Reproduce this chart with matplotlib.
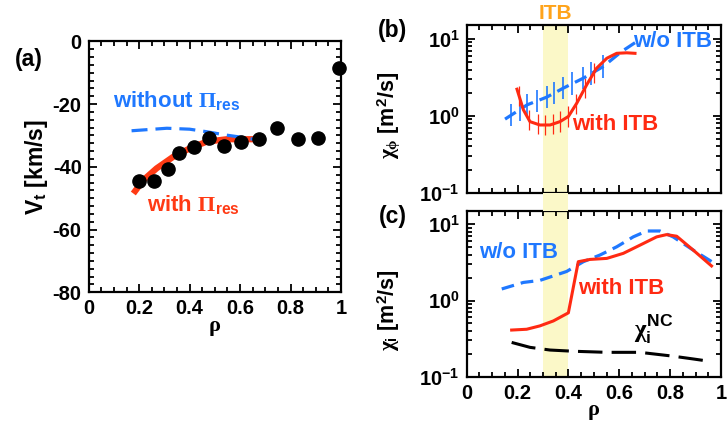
import numpy as np
import matplotlib
matplotlib.use("Agg")
import matplotlib.pyplot as plt
from matplotlib.patches import Rectangle
from matplotlib.transforms import blended_transform_factory
from matplotlib.ticker import MultipleLocator, LogLocator, NullFormatter, FuncFormatter

plt.rcParams['font.family'] = ['Liberation Sans', 'DejaVu Sans']
plt.rcParams['font.weight'] = 'bold'
plt.rcParams['axes.unicode_minus'] = False
plt.rcParams['mathtext.fontset'] = 'custom'
plt.rcParams['mathtext.rm'] = 'Liberation Serif'
plt.rcParams['mathtext.it'] = 'Liberation Serif'
plt.rcParams['mathtext.bf'] = 'Liberation Sans:bold'

BLUE = '#1f78ff'
RED = '#ff2a12'
ORANGE_RED = '#ff3a14'

# (a) measured toroidal velocity
rho_meas = [0.20, 0.258, 0.313, 0.359, 0.419, 0.477, 0.538, 0.604, 0.675, 0.748, 0.828, 0.908, 0.993]
vt_meas = [-44.5, -44.5, -40.8, -35.5, -33.8, -30.7, -33.3, -32.2, -31.2, -27.5, -31.2, -30.7, -8.4]
# (a) simulation with residual stress
rho_with = [0.177, 0.217, 0.269, 0.335, 0.401, 0.467, 0.547, 0.652]
vt_with = [-48.5, -44.2, -40.5, -36.8, -34.1, -32.0, -31.2, -31.2]
# (a) simulation without residual stress
rho_wo = [0.17, 0.31, 0.40, 0.467, 0.547, 0.60, 0.652]
vt_wo = [-28.5, -27.7, -28.0, -28.8, -29.9, -30.5, -31.2]

# (b) chi_phi
rho_b_wo = [0.151, 0.238, 0.315, 0.38, 0.459, 0.537, 0.609, 0.668]
chiphi_wo = [0.906, 1.39, 1.75, 2.29, 3.09, 4.37, 6.84, 9.2]
rho_b_with = [0.198, 0.223, 0.249, 0.288, 0.328, 0.367, 0.40, 0.433, 0.472, 0.511, 0.551, 0.59, 0.629, 0.662]
chiphi_with = [2.22, 1.20, 0.84, 0.76, 0.76, 0.84, 0.98, 1.46, 2.53, 4.16, 5.6, 6.5, 6.6, 6.5]
# error bar positions
rho_bar_wo = [0.175, 0.21, 0.238, 0.275, 0.315, 0.345, 0.38, 0.415, 0.459, 0.49, 0.537]
rho_bar_with = [0.206, 0.245, 0.28, 0.31, 0.34, 0.368, 0.40, 0.43, 0.465, 0.50]
err_fac_wo = 1.4
err_fac_with = 1.35

# (c) chi_i
rho_c_wo = [0.138, 0.223, 0.288, 0.393, 0.459, 0.524, 0.59, 0.655, 0.708, 0.76, 0.812, 0.891, 0.97]
chii_wo = [1.42, 1.73, 1.84, 2.41, 3.24, 3.96, 5.08, 6.86, 8.2, 8.2, 6.86, 4.6, 3.15]
rho_c_with = [0.177, 0.236, 0.288, 0.341, 0.40, 0.439, 0.485, 0.551, 0.616, 0.681, 0.747, 0.786, 0.826, 0.891, 0.963]
chii_with = [0.41, 0.42, 0.465, 0.54, 0.69, 3.24, 3.47, 3.58, 4.17, 5.33, 6.86, 7.35, 7.0, 4.6, 2.85]
rho_nc = [0.177, 0.249, 0.328, 0.419, 0.551, 0.681, 0.812, 0.891, 0.963]
chii_nc = [0.282, 0.243, 0.224, 0.216, 0.209, 0.209, 0.186, 0.171, 0.158]

itb_lo, itb_hi = 0.3, 0.4

fig = plt.figure(figsize=(7.28, 4.29), dpi=100)
axa = fig.add_axes([0.1218, 0.3186, 0.3466, 0.585])
axb = fig.add_axes([0.641, 0.5508, 0.3493, 0.390])
axc = fig.add_axes([0.641, 0.1219, 0.3493, 0.3862])


def rho_fmt(v, pos):
    if abs(v - round(v)) < 1e-6:
        return '%d' % round(v)
    return '%.1f' % v


def style(ax, xlabels=True):
    ax.set_xlim(0, 1)
    ax.xaxis.set_major_locator(MultipleLocator(0.2))
    ax.xaxis.set_minor_locator(MultipleLocator(0.05))
    if xlabels:
        ax.xaxis.set_major_formatter(FuncFormatter(rho_fmt))
    else:
        ax.xaxis.set_major_formatter(NullFormatter())
    ax.tick_params(which='both', direction='in', top=True, right=True, width=1.3)
    ax.tick_params(which='major', length=6, labelsize=14.5, pad=5)
    ax.tick_params(which='minor', length=3.5)
    for s in ax.spines.values():
        s.set_linewidth(1.6)
    for lab in ax.get_xticklabels() + ax.get_yticklabels():
        lab.set_fontweight('bold')


# ---- (a)
axa.plot(rho_with, vt_with, color=ORANGE_RED, lw=4.5, solid_capstyle='butt', zorder=2)
axa.plot(rho_wo, vt_wo, color=BLUE, lw=2.3, dashes=(5, 2.5), zorder=2)
axa.plot(rho_meas, vt_meas, 'o', color='black', ms=9.5, zorder=3, clip_on=False)
axa.set_ylim(-80, 0)
axa.set_yticks([-80, -60, -40, -20, 0])
axa.yaxis.set_minor_locator(MultipleLocator(2.5))
style(axa)
axa.set_xlabel(r'$\rho$', fontsize=16, labelpad=-1)
axa.set_ylabel(r'V$_\mathbf{t}$ [km/s]', fontsize=16.5, fontweight='bold', labelpad=2)
axa.text(0.095, -19, r'without $\Pi_\mathbf{res}$', color=BLUE, fontsize=16,
         fontweight='bold', va='center')
axa.text(0.23, -52, r'with $\Pi_\mathbf{res}$', color=ORANGE_RED, fontsize=16,
         fontweight='bold', va='center')
fig.text(0.039, 0.862, '(a)', fontsize=16.5, fontweight='bold', va='center', ha='center')

# ---- (b) / (c) shared log styling
for ax in (axb, axc):
    ax.axvspan(itb_lo, itb_hi, color='#fbf8c8', lw=0, zorder=0)
    ax.set_yscale('log')
    ax.set_ylim(0.1, 15)
    ax.set_yticks([0.1, 1, 10])
    ax.set_yticklabels([r'10$^\mathbf{-1}$', r'10$^\mathbf{0}$', r'10$^\mathbf{1}$'])
    ax.yaxis.set_minor_locator(LogLocator(base=10, subs=np.arange(2, 10)))
    ax.yaxis.set_minor_formatter(NullFormatter())

yb_wo = np.interp(rho_bar_wo, rho_b_wo, np.log10(chiphi_wo))
yb_with = np.interp(rho_bar_with, rho_b_with, np.log10(chiphi_with))
axb.vlines(rho_bar_wo, 10**yb_wo / err_fac_wo, 10**yb_wo * err_fac_wo, color=BLUE, lw=1.2)
axb.vlines(rho_bar_with, 10**yb_with / err_fac_with, 10**yb_with * err_fac_with, color=RED, lw=0.9)
axb.plot(rho_b_wo, chiphi_wo, color=BLUE, lw=2.3, dashes=(4, 2.2))
axb.plot(rho_b_with, chiphi_with, color=RED, lw=2.2)
style(axb, xlabels=False)
axb.set_ylabel(r'$\chi_\phi$ [m$^\mathbf{2}$/s]', fontsize=15.5, fontweight='bold')
axb.yaxis.set_label_coords(-0.255, 0.46)
axb.text(0.655, 9.3, 'w/o ITB', color=BLUE, fontsize=16, fontweight='bold', va='center')
axb.text(0.415, 0.76, 'with ITB', color=RED, fontsize=16, fontweight='bold', va='center')
axb.text(0.35, 0.968, 'ITB', transform=blended_transform_factory(axb.transData, fig.transFigure),
         color='#ffa31a', fontsize=15, fontweight='bold', ha='center', va='center')
fig.text(0.539, 0.93, '(b)', fontsize=16.5, fontweight='bold', va='center', ha='center')

# band between (b) and (c)
trans = blended_transform_factory(axb.transData, fig.transFigure)
fig.patches.append(Rectangle((itb_lo, 0.5081), itb_hi - itb_lo, 0.5508 - 0.5081,
                             transform=trans, color='#fbf8c8', lw=0, zorder=0))

# ---- (c)
axc.plot(rho_c_wo, chii_wo, color=BLUE, lw=2.3, dashes=(4, 2.2))
axc.plot(rho_c_with, chii_with, color=RED, lw=2.2)
axc.plot(rho_nc, chii_nc, color='black', lw=2.2, dashes=(8, 3))
style(axc)
axc.set_xlabel(r'$\rho$', fontsize=16, labelpad=-1)
axc.set_ylabel(r'$\chi_\mathbf{i}$ [m$^\mathbf{2}$/s]', fontsize=15.5, fontweight='bold')
axc.yaxis.set_label_coords(-0.255, 0.40)
axc.text(0.05, 4.3, 'w/o ITB', color=BLUE, fontsize=16, fontweight='bold', va='center')
axc.text(0.44, 1.45, 'with ITB', color=RED, fontsize=16, fontweight='bold', va='center')
axc.text(0.66, 0.42, r'$\chi_\mathbf{i}^\mathbf{NC}$', color='black', fontsize=18, va='center')
fig.text(0.539, 0.496, '(c)', fontsize=16.5, fontweight='bold', va='center', ha='center')

fig.savefig('out.png', dpi=100)
